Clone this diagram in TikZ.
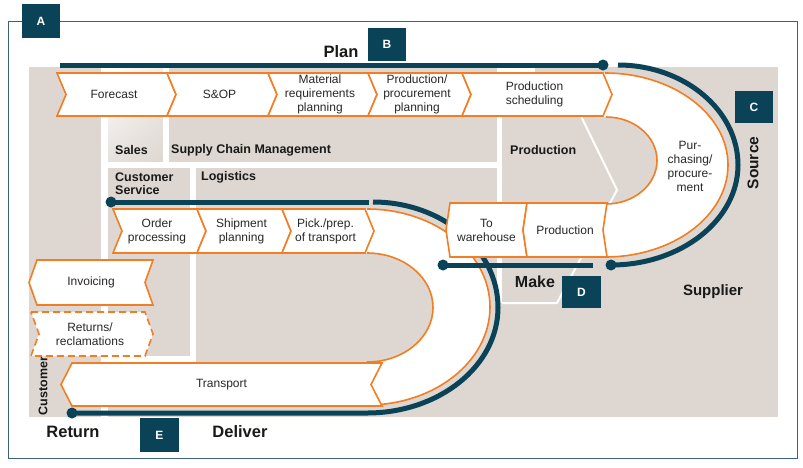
\documentclass[tikz,border=0pt]{standalone}
\usepackage{fontspec}
\setmainfont{Liberation Sans}
\usetikzlibrary{shadings}
\definecolor{tealdk}{RGB}{10,66,88}
\definecolor{bggray}{RGB}{222,215,209}
\definecolor{orng}{RGB}{242,125,35}
\definecolor{framec}{RGB}{60,100,115}
\definecolor{txt}{RGB}{40,40,40}
\tikzset{
  chev/.style={fill=white, draw=orng, line width=1.6pt},
  chevd/.style={chev, dash pattern=on 7pt off 4pt},
  boxtext/.style={font=\fontsize{12}{14}\selectfont, text=txt, align=center, inner sep=0pt},
  dept/.style={font=\bfseries\fontsize{12.5}{13}\selectfont, text=black!90, inner sep=0pt, align=left},
  phase/.style={font=\bfseries\fontsize{16.5}{18}\selectfont, text=black!90, inner sep=0pt},
  letterbox/.style={fill=tealdk, text=white, font=\bfseries\fontsize{12}{14}\selectfont, inner sep=0pt, minimum width=38pt, minimum height=33pt},
  tline/.style={draw=tealdk, line width=5pt},
  uline/.style={draw=orng, line width=1.6pt},
  sepline/.style={draw=white, line width=2pt},
}
% right-pointing chevron: [style]{name}{x0}{x1}{top}{bottom}{depth}{text}
\newcommand\chevR[8][chev]{%
  \path[#1] (#3,#5) -- (#4,#5) -- ({#4+#7},{(#5+#6)/2}) -- (#4,#6) -- (#3,#6) -- ({#3+#7},{(#5+#6)/2}) -- cycle;
  \node[boxtext] (#2) at ({(#3+#4)/2+2},{(#5+#6)/2}) {#8};
}
% left-pointing chevron
\newcommand\chevL[8][chev]{%
  \path[#1] (#3,#5) -- (#4,#5) -- ({#4-#7},{(#5+#6)/2}) -- (#4,#6) -- (#3,#6) -- ({#3-#7},{(#5+#6)/2}) -- cycle;
  \node[boxtext] (#2) at ({(#3+#4)/2-#7/2},{(#5+#6)/2}) {#8};
}
\begin{document}
\begin{tikzpicture}[x=1pt,y=-1pt]
\useasboundingbox (0,0) rectangle (803,467);
\fill[white] (0,0) rectangle (803,467);
% frame
\draw[framec, line width=0.8pt] (8,21) rectangle (797,458);
% gray background
\fill[bggray] (29,67) rectangle (778,417);
% Sales block gradient
\shade[upper left=white, upper right=bggray!45!white, lower left=bggray!75!white, lower right=bggray] (108,67) rectangle (163,162);
% white separators
\fill[white] (101,67) rectangle (108,417);
\fill[white] (101,67) rectangle (108,73);
\fill[white] (163,67) rectangle (169,162);
\fill[white] (108,162) rectangle (497,168);
\fill[white] (190,168) rectangle (196,356);
\fill[white] (101,356) rectangle (196,362);
\fill[white] (497,67) rectangle (502,303);
\fill[white] (497,67) rectangle (535,73);
\draw[sepline] (578,110) -- (617,190) -- (557,303) -- (502,303);

% Purchasing U (source)
\fill[white] (595,73) -- (605,73) .. controls (672.9,73) and (728,114.2) .. (728,165)
  .. controls (728,215.8) and (672.9,257) .. (605,257) -- (595,257) -- (595,204) -- (606,204)
  .. controls (634.2,204) and (657,184.5) .. (657,160.5)
  .. controls (657,136.5) and (634.2,117) .. (606,117) -- (595,117) -- cycle;
\draw[uline] (605,73) .. controls (672.9,73) and (728,114.2) .. (728,165)
  .. controls (728,215.8) and (672.9,257) .. (605,257);
\draw[uline] (606,117) .. controls (634.2,117) and (657,136.5) .. (657,160.5)
  .. controls (657,184.5) and (634.2,204) .. (606,204);
\node[boxtext] (purch) at (690,166) {Pur-\\chasing/\\procure-\\ment};

% Deliver U
\fill[white] (355,209) -- (367,209) .. controls (434.9,209) and (490,252.9) .. (490,307)
  .. controls (490,361.1) and (434.9,405) .. (367,405) -- (355,405) -- (355,362) -- (367,362)
  .. controls (403.5,362) and (433,337.6) .. (433,307.5)
  .. controls (433,277.4) and (403.5,253) .. (367,253) -- (355,253) -- cycle;
\draw[uline] (367,209) .. controls (434.9,209) and (490,252.9) .. (490,307)
  .. controls (490,361.1) and (434.9,405) .. (367,405);
\draw[uline] (367,253) .. controls (403.5,253) and (433,277.4) .. (433,307.5)
  .. controls (433,337.6) and (403.5,362) .. (367,362);

% teal phase lines
\coordinate (planL) at (60,65);
\coordinate (planR) at (603,65);
\draw[tline] (planL) -- (planR);
\fill[tealdk] (planR) circle[radius=5.5pt];

\coordinate (srcS) at (618,65);
\coordinate (srcE) at (611,265);
\draw[tline] (srcS) .. controls (684,65) and (738,110) .. (738,165)
  .. controls (738,220) and (681,265) .. (srcE);
\fill[tealdk] (srcE) circle[radius=5.5pt];

\coordinate (delS) at (111,202);
\coordinate (delM) at (369,202);
\coordinate (delA) at (373,202);
\coordinate (delE) at (72,413);
\draw[tline] (delS) -- (delM);
\fill[tealdk] (delS) circle[radius=5.5pt];
\draw[tline] (delA) .. controls (442,202) and (498,249.2) .. (498,307.5)
  .. controls (498,365.8) and (439.4,413) .. (367,413) -- (delE);
\fill[tealdk] (delE) circle[radius=5.5pt];

% Plan row
\chevR{forecast}{57}{167}{73}{116}{9}{Forecast}
\chevR{sop}{167}{268}{73}{116}{9}{S\&OP}
\chevR{mrp}{268}{368}{73}{116}{9}{Material\\requirements\\planning}
\chevR{ppp}{368}{462}{73}{116}{9}{Production/\\procurement\\planning}
\chevR{psched}{462}{603}{73}{116}{9}{Production\\scheduling}

% Deliver row
\chevR{ordproc}{113}{197}{209}{253}{9}{Order\\processing}
\chevR{shipplan}{197}{282}{209}{253}{9}{Shipment\\planning}
\chevR{pickprep}{282}{365}{209}{253}{9}{Pick./prep.\\of transport}

% Make row
\chevL{towh}{450}{527}{203}{257}{4}{To\\warehouse}
\chevL{prod}{527}{607}{203}{257}{4}{Production}

% make line
\coordinate (makeL) at (443,265);
\coordinate (makeR) at (593,265);
\draw[tline] (makeL) -- (makeR);
\fill[tealdk] (makeL) circle[radius=5.5pt];

% Customer column
\node[dept, rotate=90] (cust) at (43,386) {Customer};
\chevL{invoicing}{37}{153}{260}{305}{8}{Invoicing}
\chevR[chevd]{returns}{31}{145}{312}{356}{8}{Returns/\\reclamations}
\chevL{transport}{72}{382}{363}{406}{11}{Transport}

% department labels
\node[dept, anchor=west] (sales) at (115,150) {Sales};
\node[dept, anchor=west] (scm) at (171,150) {Supply Chain Management};
\node[dept, anchor=west] (cserv) at (115,183.5) {Customer\\Service};
\node[dept, anchor=west] (logi) at (201,177) {Logistics};
\node[dept, anchor=west] (prodl) at (510,150) {Production};

% phase labels
\node[phase] (plan) at (341,52) {Plan};
\node[phase, font=\bfseries\fontsize{15.5}{17}\selectfont, rotate=90] (source) at (753,163) {Source};
\node[phase, font=\bfseries\fontsize{16}{18}\selectfont] (make) at (535,282) {Make};
\node[phase, font=\bfseries\fontsize{15}{17}\selectfont] (supplier) at (713,292) {Supplier};
\node[phase] (return) at (73,432) {Return};
\node[phase] (deliver) at (240,432) {Deliver};

% letter boxes
\node[letterbox, minimum height=34pt] (bA) at (41,21) {A};
\node[letterbox] (bB) at (387,44.5) {B};
\node[letterbox, minimum height=32pt] (bC) at (754,107) {C};
\node[letterbox, minimum width=39pt, minimum height=32pt] (bD) at (581.5,292) {D};
\node[letterbox, minimum width=39pt, minimum height=34pt] (bE) at (159.5,435) {E};
\end{tikzpicture}
\end{document}
